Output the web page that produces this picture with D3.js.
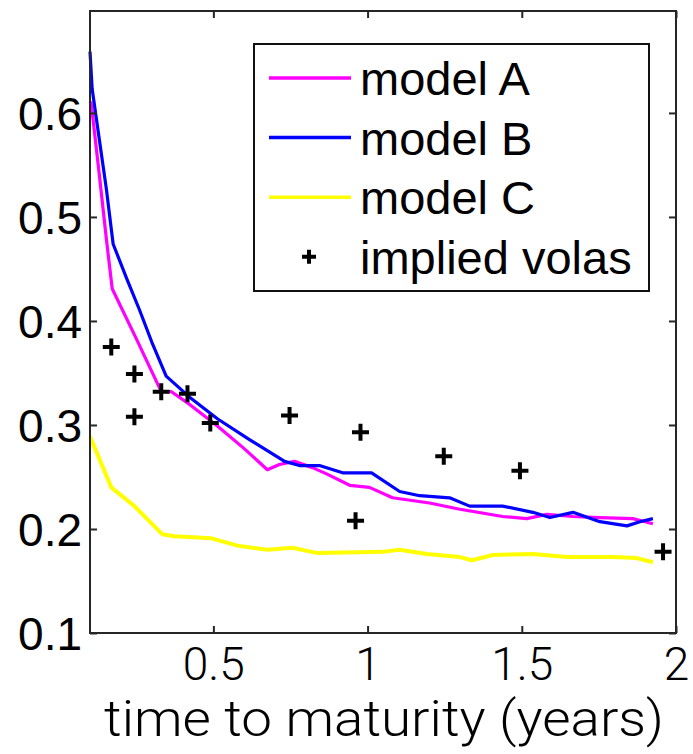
<!DOCTYPE html>
<html>
<head>
<meta charset="utf-8">
<script src="https://cdn.jsdelivr.net/npm/d3@7"></script>
<style>
  body { margin: 0; background: #fff; }
  svg { display: block; }
</style>
</head>
<body>
<div id="chart"></div>
<script>
// time to maturity (years) for each curve
const tA = [0.1, 0.104, 0.13, 0.153, 0.172, 0.25, 0.331, 0.364, 0.422, 0.513, 0.601, 0.675, 0.714, 0.763, 0.821, 0.867, 0.942, 1.006, 1.081, 1.201, 1.299, 1.438, 1.516, 1.581, 1.666, 1.753, 1.86, 1.925];
const modelA = [0.611, 0.609, 0.541, 0.479, 0.431, 0.383, 0.332, 0.332, 0.32, 0.299, 0.277, 0.257, 0.262, 0.265, 0.259, 0.253, 0.242, 0.24, 0.23, 0.225, 0.219, 0.212, 0.21, 0.214, 0.212, 0.211, 0.21, 0.205];

const tB = [0.1, 0.107, 0.13, 0.153, 0.175, 0.22, 0.26, 0.3, 0.347, 0.422, 0.513, 0.617, 0.731, 0.779, 0.844, 0.919, 1.013, 1.104, 1.169, 1.266, 1.331, 1.438, 1.536, 1.591, 1.666, 1.753, 1.841, 1.883, 1.925];
const modelB = [0.659, 0.623, 0.575, 0.527, 0.474, 0.44, 0.411, 0.38, 0.347, 0.327, 0.306, 0.286, 0.265, 0.261, 0.261, 0.254, 0.254, 0.236, 0.232, 0.23, 0.222, 0.222, 0.216, 0.211, 0.216, 0.207, 0.203, 0.207, 0.21];

const tC = [0.1, 0.169, 0.244, 0.334, 0.373, 0.494, 0.578, 0.675, 0.756, 0.834, 1.049, 1.104, 1.192, 1.299, 1.338, 1.406, 1.536, 1.646, 1.795, 1.873, 1.925];
const modelC = [0.289, 0.24, 0.222, 0.195, 0.193, 0.191, 0.184, 0.18, 0.182, 0.177, 0.178, 0.18, 0.176, 0.173, 0.17, 0.175, 0.176, 0.173, 0.173, 0.172, 0.168];

const tImplied = [0.169, 0.244, 0.244, 0.331, 0.416, 0.49, 0.747, 0.977, 0.961, 1.247, 1.494, 1.958];
const impliedVolas = [0.375, 0.349, 0.308, 0.332, 0.33, 0.302, 0.309, 0.293, 0.208, 0.27, 0.256, 0.178];

const xTicks = [0.5, 1, 1.5, 2];
const yTicks = [0.1, 0.2, 0.3, 0.4, 0.5, 0.6];
const legendNames = ["model A", "model B", "model C", "implied volas"];
const colors = ["#ff00ff", "#0000ff", "#ffff00"];

const W = 693, H = 754;
const mLeft = 90, mRight = 676, mTop = 11, mBottom = 633;

const svg = d3.select("#chart").append("svg")
  .attr("width", W)
  .attr("height", H);

svg.append("rect").attr("width", W).attr("height", H).attr("fill", "#fff");

const x = d3.scaleLinear().domain([0.1, 2]).range([mLeft, mRight]);
const y = d3.scaleLinear().domain([0.1, 0.698]).range([mBottom, mTop]);

const line = d3.line()
  .x(d => x(d[0]))
  .y(d => y(d[1]));

const series = [
  d3.zip(tA, modelA),
  d3.zip(tB, modelB),
  d3.zip(tC, modelC)
];

series.forEach(function(s, i) {
  svg.append("path")
    .datum(s)
    .attr("fill", "none")
    .attr("stroke", colors[i])
    .attr("stroke-width", i == 2 ? 4 : 3.2)
    .attr("stroke-linejoin", "round")
    .attr("d", line);
});

// plus markers
function plus(g, cx, cy, r) {
  g.append("path")
    .attr("d", `M${cx - r},${cy}H${cx + r}M${cx},${cy - r}V${cy + r}`)
    .attr("stroke", "#000")
    .attr("stroke-width", 4)
    .attr("fill", "none");
}
const marks = svg.append("g");
d3.zip(tImplied, impliedVolas).forEach(function(d) {
  plus(marks, x(d[0]), y(d[1]), 8.5);
});

// axes: ticks point inward on all four sides
const axisColor = "#262626";
const xb = svg.append("g")
  .attr("transform", `translate(0,${mBottom})`)
  .call(d3.axisBottom(x).tickValues(xTicks).tickSize(-7).tickSizeOuter(0).tickFormat(d3.format("")));
const xt = svg.append("g")
  .attr("transform", `translate(0,${mTop})`)
  .call(d3.axisTop(x).tickValues(xTicks).tickSize(-7).tickSizeOuter(0).tickFormat(""));
const yl = svg.append("g")
  .attr("transform", `translate(${mLeft},0)`)
  .call(d3.axisLeft(y).tickValues(yTicks).tickSize(-7).tickSizeOuter(0).tickFormat(d3.format("")));
const yr = svg.append("g")
  .attr("transform", `translate(${mRight},0)`)
  .call(d3.axisRight(y).tickValues(yTicks).tickSize(-7).tickSizeOuter(0).tickFormat(""));

[xb, xt, yl, yr].forEach(function(g) {
  g.select(".domain").remove();
  g.selectAll(".tick line").attr("stroke", axisColor).attr("stroke-width", 2);
});

xb.selectAll(".tick text")
  .attr("y", 14)
  .attr("dy", "0.71em")
  .attr("fill", "#000")
  .style("font-family", "Roboto, sans-serif")
  .style("font-weight", 300)
  .style("font-size", "46px");

yl.selectAll(".tick text")
  .attr("x", -8)
  .attr("dy", "0.36em")
  .attr("fill", "#000")
  .style("font-family", "'Liberation Sans', Arial, sans-serif")
  .style("font-size", "46px");

svg.append("rect")
  .attr("x", mLeft).attr("y", mTop)
  .attr("width", mRight - mLeft).attr("height", mBottom - mTop)
  .attr("fill", "none")
  .attr("stroke", axisColor)
  .attr("stroke-width", 2);

// legend
const lg = svg.append("g");
lg.append("rect")
  .attr("x", 254).attr("y", 44)
  .attr("width", 395).attr("height", 247)
  .attr("fill", "#fff")
  .attr("stroke", "#111")
  .attr("stroke-width", 2);

legendNames.forEach(function(name, i) {
  const ry = 78 + i * 59.6;
  if (i < 3) {
    lg.append("line")
      .attr("x1", 269).attr("x2", 351)
      .attr("y1", ry).attr("y2", ry)
      .attr("stroke", colors[i])
      .attr("stroke-width", 3.5);
  } else {
    plus(lg, 309, ry, 7);
  }
  lg.append("text")
    .attr("x", 360)
    .attr("y", ry)
    .attr("dy", "0.36em")
    .style("font-family", "'Liberation Sans', Arial, sans-serif")
    .style("font-size", "47px")
    .text(name);
});

svg.append("text")
  .attr("x", 384)
  .attr("y", 736)
  .attr("text-anchor", "middle")
  .attr("textLength", 560)
  .attr("lengthAdjust", "spacingAndGlyphs")
  .style("font-family", "Roboto, sans-serif")
  .style("font-weight", 300)
  .style("font-size", "50px")
  .text("time to maturity (years)");
</script>
</body>
</html>
